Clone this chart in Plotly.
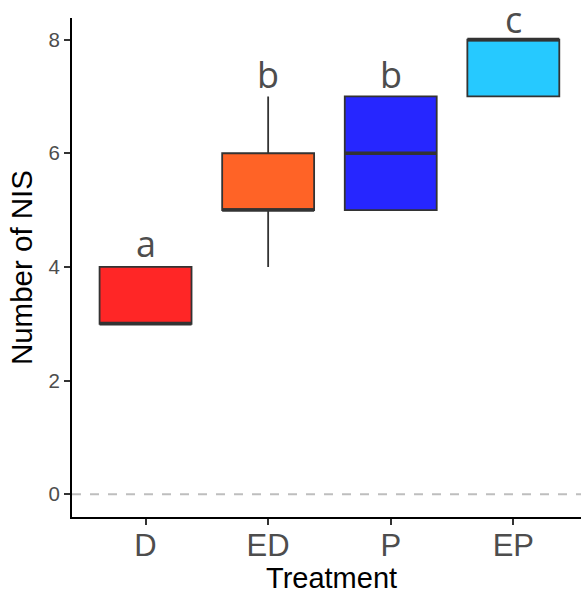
import plotly.graph_objects as go

categories = ["D", "ED", "P", "EP"]
q1 = [3, 5, 5, 7]
median = [3, 5, 6, 8]
q3 = [4, 6, 7, 8]
lower = [3, 4, 5, 7]
upper = [4, 7, 7, 8]
colors = ["#FF2626", "#FF6326", "#2626FF", "#26C9FF"]
letters = ["a", "b", "b", "c"]
letter_y = [4.42, 7.38, 7.38, 8.36]
yticks = [0, 2, 4, 6, 8]

BW = 0.75
fig = go.Figure()
for i, c in enumerate(categories):
    fig.add_trace(go.Box(
        x=[i], q1=[q1[i]], median=[median[i]], q3=[q3[i]],
        lowerfence=[lower[i]], upperfence=[upper[i]],
        width=BW, whiskerwidth=0, fillcolor=colors[i],
        line=dict(color="#333333", width=1.8),
        boxpoints=False, showlegend=False, hoverinfo="skip",
    ))
    fig.add_shape(type="line", xref="x", yref="y",
                  x0=i - BW / 2, x1=i + BW / 2, y0=median[i], y1=median[i],
                  line=dict(color="#333333", width=3.5), layer="above")
    fig.add_annotation(x=i, y=letter_y[i], text=letters[i], showarrow=False,
                       font=dict(family="Open Sans", size=36, color="#4D4D4D"),
                       xanchor="center", yanchor="middle")

fig.add_shape(type="line", xref="paper", yref="y", x0=0, x1=1, y0=0, y1=0,
              line=dict(color="#BEBEBE", width=2, dash="dash"), layer="below")

fig.add_annotation(xref="paper", yref="paper", x=0.509, y=-0.122,
                   text="Treatment", showarrow=False, xanchor="center", yanchor="middle",
                   font=dict(family="Liberation Sans", size=29, color="black"))
fig.add_annotation(xref="paper", yref="paper", x=-0.098, y=0.499,
                   text="Number of NIS", showarrow=False, textangle=-90,
                   xanchor="center", yanchor="middle",
                   font=dict(family="Liberation Sans", size=29.5, color="black"))

fig.update_layout(
    width=581, height=594,
    margin=dict(l=72, r=0, t=18, b=77),
    plot_bgcolor="white", paper_bgcolor="white",
    xaxis=dict(range=[-0.6, 3.552], tickvals=list(range(len(categories))),
               ticktext=categories, showline=True, linecolor="black", linewidth=2.2,
               ticks="outside", ticklen=6, tickwidth=2, tickcolor="#333333",
               showgrid=False, zeroline=False, automargin=False,
               ticklabelstandoff=-6,
               tickfont=dict(family="Liberation Sans", size=31, color="#4D4D4D")),
    yaxis=dict(range=[-0.40, 8.38], tickvals=yticks, showline=True,
               linecolor="black", linewidth=2.2, ticks="outside", ticklen=6,
               tickwidth=2, tickcolor="#333333", showgrid=False, zeroline=False,
               automargin=False,
               tickfont=dict(family="Liberation Sans", size=20.5, color="#4D4D4D")),
)

fig.write_html("out.html", config={"displayModeBar": False},
               post_script="document.body.style.margin='0';document.body.style.overflow='hidden';")
